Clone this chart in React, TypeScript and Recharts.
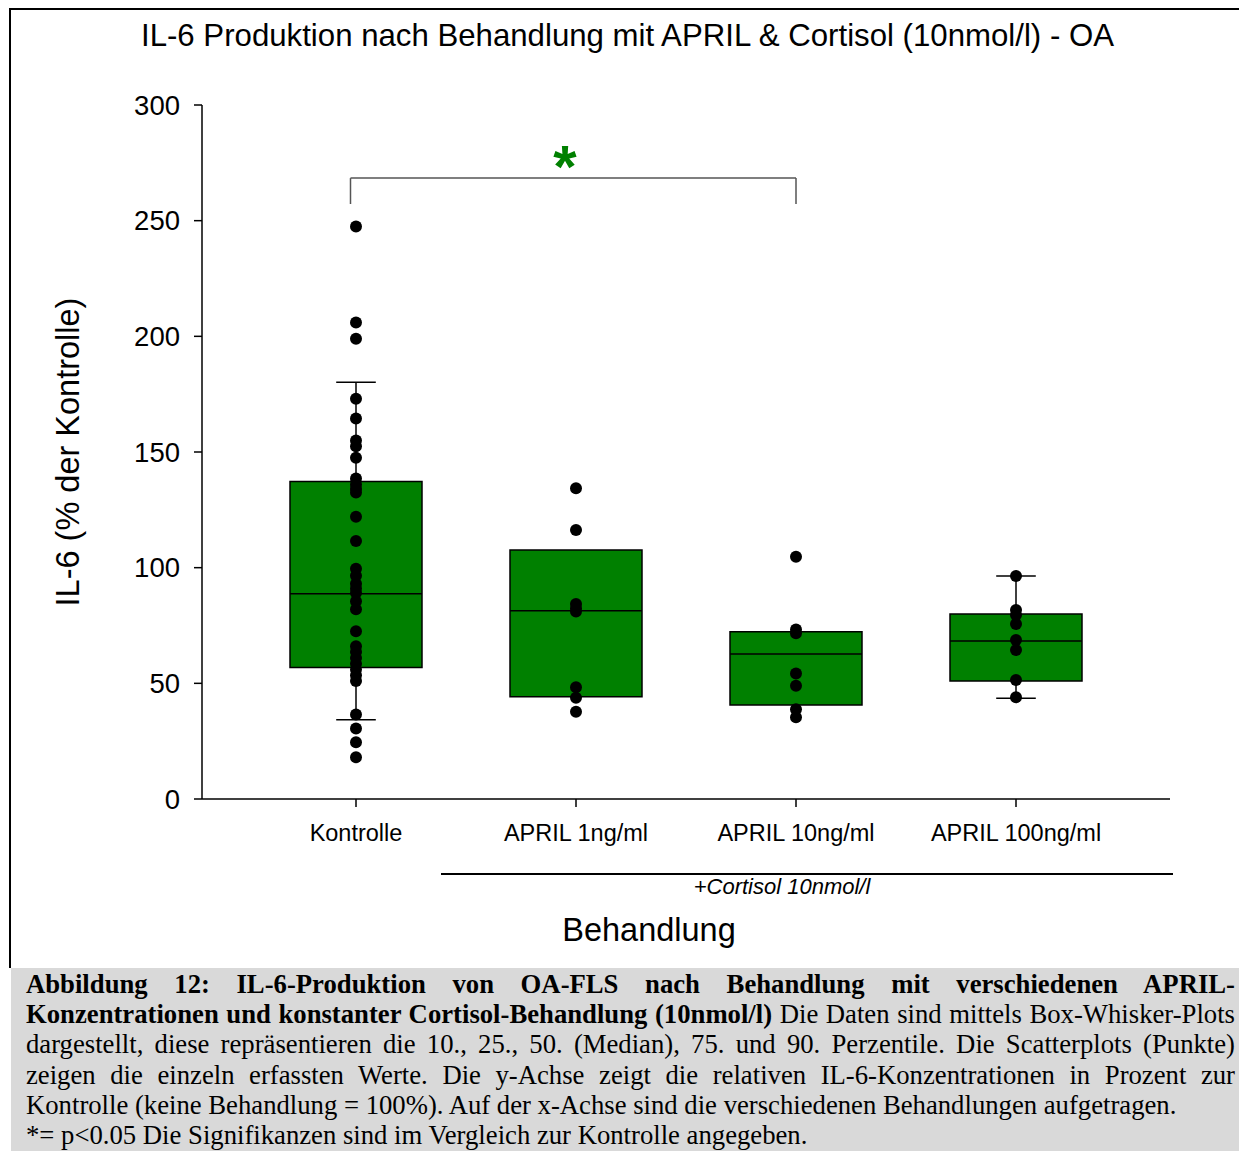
import React from "react";
import { ComposedChart, Scatter, XAxis, YAxis, ReferenceArea, ReferenceLine, ReferenceDot } from "recharts";

const categories = ["Kontrolle", "APRIL 1ng/ml", "APRIL 10ng/ml", "APRIL 100ng/ml"];
const yTicks = [0, 50, 100, 150, 200, 250, 300];

// single values per group (scatter)
const kontrollePoints = [247.5, 206, 199, 173, 164.5, 155, 152.5, 147.5, 138.5, 136, 134, 132.5, 122, 111.5, 99.5, 96.5, 93, 91, 89, 85.5, 82, 72.5, 66, 63.5, 61, 58.5, 56, 53.5, 51, 36.5, 30.5, 24.5, 18];
const april1Points = [134.3, 116.3, 84.3, 82.5, 81, 48.3, 43.8, 37.7];
const april10Points = [104.7, 73.3, 71.6, 54.3, 49, 38.8, 35.3];
const april100Points = [96.4, 81.7, 79.5, 75.6, 68.7, 64.4, 51.4, 44];

// percentiles per group
const p10 = [34.3, null, null, 43.5];
const q1 = [56.8, 44.2, 40.6, 51.0];
const median = [88.7, 81.4, 62.7, 68.3];
const q3 = [137.2, 107.6, 72.3, 80.0];
const p90 = [180.2, null, null, 96.4];

// significance: Kontrolle vs APRIL 10ng/ml
const sigFrom = 0.975;
const sigTo = 3;
const sigTop = 268.4;
const sigBottom = 257.2;

const groups = [kontrollePoints, april1Points, april10Points, april100Points];
const scatterData = groups.flatMap((vals, i) => vals.map((y) => ({ x: i + 1, y })));

const BOX_HALF = 0.3;
const CAP_HALF = 0.09;
const sans = "'Liberation Sans', Arial, sans-serif";
const serif = "'Liberation Serif', 'Times New Roman', serif";

function Star(props: any) {
  return (
    <text x={props.cx} y={props.cy + 31} textAnchor="middle" fill="#008000" fontFamily={sans} fontWeight="bold" fontSize={60}>
      *
    </text>
  );
}

const captionLine = (content: React.ReactNode, justify = true) => (
  <div style={{ height: 30.2, lineHeight: "30.2px", whiteSpace: "nowrap", textAlign: justify ? "justify" : "left", textAlignLast: justify ? "justify" : "left" } as React.CSSProperties}>
    {content}
  </div>
);

export default function App() {
  return (
    <div style={{ position: "relative", width: 1239, height: 1143, overflow: "hidden", background: "#fff", fontFamily: sans }}>
      <div style={{ position: "absolute", left: 1, top: 0, right: 0, height: 2, background: "#000" }} />
      <div style={{ position: "absolute", left: 1, top: 0, width: 2, height: 960, background: "#000" }} />

      <div style={{ position: "absolute", left: 0, top: 10, width: 1239, textAlign: "center", fontSize: 31.2, color: "#000", whiteSpace: "nowrap" }}>
        IL-6 Produktion nach Behandlung mit APRIL &amp; Cortisol (10nmol/l) - OA
      </div>

      <div style={{ position: "absolute", left: 0, top: 0 }}>
        <ComposedChart width={1239} height={950} margin={{ top: 97, right: 77, bottom: 119, left: 134 }}>
          <XAxis
            type="number"
            dataKey="x"
            domain={[0.3, 4.7]}
            ticks={[1, 2, 3, 4]}
            tickFormatter={(v: number) => categories[v - 1]}
            allowDataOverflow
            height={40}
            stroke="#000"
            strokeWidth={1.5}
            tickSize={8}
            tickMargin={17}
            tick={{ fill: "#000", fontSize: 23.5, fontFamily: sans }}
          />
          <YAxis
            type="number"
            dataKey="y"
            domain={[0, 300]}
            ticks={yTicks}
            width={60}
            stroke="#000"
            strokeWidth={1.5}
            tickSize={8}
            tickMargin={14}
            tick={{ fill: "#000", fontSize: 27.5, fontFamily: sans }}
          />
          {categories.map((c, i) => (
            <ReferenceArea key={"box" + c} x1={i + 1 - BOX_HALF} x2={i + 1 + BOX_HALF} y1={q1[i]} y2={q3[i]} fill="#008000" fillOpacity={1} stroke="#000" strokeWidth={1.5} />
          ))}
          {categories.map((c, i) => (
            <ReferenceLine key={"med" + c} segment={[{ x: i + 1 - BOX_HALF, y: median[i] }, { x: i + 1 + BOX_HALF, y: median[i] }]} stroke="#000" strokeWidth={1.5} />
          ))}
          {categories.map((c, i) =>
            p90[i] == null ? null : (
              <ReferenceLine key={"wu" + c} segment={[{ x: i + 1, y: q3[i] }, { x: i + 1, y: p90[i] as number }]} stroke="#000" strokeWidth={1.5} />
            )
          )}
          {categories.map((c, i) =>
            p10[i] == null ? null : (
              <ReferenceLine key={"wl" + c} segment={[{ x: i + 1, y: q1[i] }, { x: i + 1, y: p10[i] as number }]} stroke="#000" strokeWidth={1.5} />
            )
          )}
          {categories.map((c, i) =>
            p90[i] == null ? null : (
              <ReferenceLine key={"cu" + c} segment={[{ x: i + 1 - CAP_HALF, y: p90[i] as number }, { x: i + 1 + CAP_HALF, y: p90[i] as number }]} stroke="#000" strokeWidth={1.5} />
            )
          )}
          {categories.map((c, i) =>
            p10[i] == null ? null : (
              <ReferenceLine key={"cl" + c} segment={[{ x: i + 1 - CAP_HALF, y: p10[i] as number }, { x: i + 1 + CAP_HALF, y: p10[i] as number }]} stroke="#000" strokeWidth={1.5} />
            )
          )}
          <ReferenceLine segment={[{ x: sigFrom, y: sigTop }, { x: sigTo, y: sigTop }]} stroke="#555" strokeWidth={1.5} />
          <ReferenceLine segment={[{ x: sigFrom, y: sigTop }, { x: sigFrom, y: sigBottom }]} stroke="#555" strokeWidth={1.5} />
          <ReferenceLine segment={[{ x: sigTo, y: sigTop }, { x: sigTo, y: sigBottom }]} stroke="#555" strokeWidth={1.5} />
          <ReferenceDot x={1.95} y={278} r={0} shape={Star} />
          <Scatter data={scatterData} fill="#000" isAnimationActive={false} shape={(p: any) => <circle cx={p.cx} cy={p.cy} r={6} fill="#000" />} />
        </ComposedChart>
      </div>

      <div style={{ position: "absolute", left: 60, top: 444, transform: "translate(-50%, -50%) rotate(-90deg)", whiteSpace: "nowrap", fontSize: 32.5 }}>
        IL-6 (% der Kontrolle)
      </div>

      <div style={{ position: "absolute", left: 433, top: 865, width: 732, height: 1.5, background: "#000" }} />
      <div style={{ position: "absolute", left: 774, top: 879, transform: "translate(-50%, -50%)", whiteSpace: "nowrap", fontSize: 22, fontStyle: "italic" }}>
        +Cortisol 10nmol/l
      </div>
      <div style={{ position: "absolute", left: 641, top: 922, transform: "translate(-50%, -50%)", whiteSpace: "nowrap", fontSize: 32.5 }}>
        Behandlung
      </div>

      <div style={{ position: "absolute", left: 3, top: 960, right: 0, bottom: 0, background: "#d9d9d9", padding: "1px 12px 0 15px", fontFamily: serif, fontSize: 26.7, color: "#000" }}>
        {captionLine(<b>Abbildung 12: IL-6-Produktion von OA-FLS nach Behandlung mit verschiedenen APRIL-</b>)}
        {captionLine(<><b>Konzentrationen und konstanter Cortisol-Behandlung (10nmol/l)</b> Die Daten sind mittels Box-Whisker-Plots</>)}
        {captionLine("dargestellt, diese repräsentieren die 10., 25., 50. (Median), 75. und 90. Perzentile. Die Scatterplots (Punkte)")}
        {captionLine("zeigen die einzeln erfassten Werte. Die y-Achse zeigt die relativen IL-6-Konzentrationen in Prozent zur")}
        {captionLine("Kontrolle (keine Behandlung = 100%). Auf der x-Achse sind die verschiedenen Behandlungen aufgetragen.", false)}
        {captionLine("*= p<0.05 Die Signifikanzen sind im Vergleich zur Kontrolle angegeben.", false)}
      </div>
    </div>
  );
}
